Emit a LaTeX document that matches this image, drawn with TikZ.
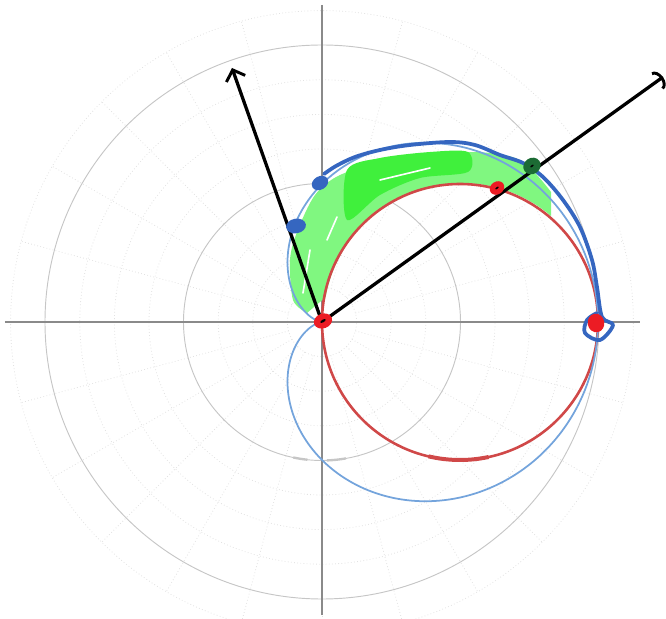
\documentclass[tikz,border=0pt]{standalone}
\usepackage{xcolor}
\usepackage{tikz}
\usetikzlibrary{arrows.meta,shapes.geometric}

\definecolor{axisgray}{HTML}{8A8A8A}
\definecolor{gridgray}{HTML}{C6C6C6}
\definecolor{faintgray}{HTML}{E2E2E2}
\definecolor{circred}{HTML}{D04848}
\definecolor{cardblue}{HTML}{74A4DC}
\definecolor{penblue}{HTML}{3566C0}
\definecolor{dotred}{HTML}{EC1C24}
\definecolor{dotgreen}{HTML}{1C6B34}
\definecolor{greenA}{HTML}{80F780}
\definecolor{greenB}{HTML}{40F03C}

\begin{document}
\begin{tikzpicture}[x=0.03cm,y=0.03cm,
  axis/.style={draw=axisgray,line width=1.3pt},
  ring/.style={draw=gridgray,line width=0.8pt},
  faint/.style={draw=faintgray,line width=0.7pt,dotted},
  circ/.style={draw=circred,line width=2.2pt},
  card/.style={draw=cardblue,line width=1.5pt},
  hand/.style={draw=penblue,line width=3.2pt,line cap=round,line join=round},
  streak/.style={draw=white,line width=1.4pt,line cap=round},
  arr/.style={line width=2.8pt,line cap=round,line join=round},
  dot/.style={ellipse,inner sep=0pt,draw=none},
  pinmark/.style={ellipse,fill=black,inner sep=0pt,minimum width=0.18cm,minimum height=0.08cm}
]
\useasboundingbox (-322,-297) rectangle (344,322);

% polar grid
\foreach \r in {34.6,69.2,103.8,173,207.6,242.2,311.4}
  \draw[faint] (0,0) circle (\r);
\foreach \a in {0,15,...,345}
  \draw[faint] (\a:34.6) -- (\a:311.4);
\draw[ring] (0,0) circle (138.5);
\draw[ring] (0,0) circle (277);
\draw[gridgray,line width=2pt] (258:138.5) arc[start angle=258,end angle=264,radius=138.5];
\draw[gridgray,line width=2pt] (272:138.5) arc[start angle=272,end angle=280,radius=138.5];
\draw[axis] (-317,0) -- (318,0);
\draw[axis] (0,317) -- (0,-293);

% shaded band
\fill[greenA] plot[smooth] coordinates {(-15,9) (-29,22) (-32,62) (-25,90) (-7,127) (18,147) (68,162) (148,170) (198,162) (229,130)}
  -- (229,106) arc[start angle=49.6,end angle=170,radius=138] -- cycle;
\fill[greenB] plot[smooth cycle] coordinates {(25,102) (25,152) (58,164) (108,170) (146,170) (146,150) (98,144) (58,127)};
\draw[streak] (58,142) -- (108,154);
\draw[streak] (15,105) -- (5,82);
\draw[streak] (-12,72) -- (-19,29);

% curves
\draw[circ] (138,0) circle (138);
\draw[circred,line width=3.4pt] (138,0) ++(256.8:138) arc[start angle=256.8,end angle=282,radius=138];
\draw[card] plot[domain=0:360,samples=160,smooth] ({138*(1+cos(\x))*cos(\x)},{138*(1+cos(\x))*sin(\x)});
\draw[hand] plot[smooth,tension=0.55] coordinates {(2,148) (14,156) (33,165) (58,172) (88,177) (128,180) (153,177) (178,167) (201,159) (221,145) (241,122) (258,95) (270,62) (275,35) (280,5) (291,-3) (278,-18) (263,-11) (265,2) (275,9)};

% rays
\coordinate (O) at (0,0);
\coordinate (tipA) at (-90,254);
\coordinate (tipB) at (341,245);
\draw[arr,-{Straight Barb[length=8pt,width=17pt,line width=2.5pt]}] (O) -- (tipA);
\draw[arr,-{Arc Barb[length=6pt,width=18pt,line width=2.5pt]}] (O) -- (tipB);

% points
\node[dot,fill=penblue,minimum width=0.52cm,minimum height=0.4cm,rotate=30] (blueA) at (-2,139) {};
\node[dot,fill=penblue,minimum width=0.6cm,minimum height=0.44cm,rotate=10] (blueB) at (-26,96) {};
\node[dot,fill=dotgreen,minimum width=0.54cm,minimum height=0.48cm,rotate=35] (green) at (210,156) {};
\node[pinmark,rotate=35,minimum width=0.12cm,minimum height=0.05cm] (greenC) at (green) {};
\node[dot,fill=dotred,minimum width=0.46cm,minimum height=0.38cm,rotate=35] (redP) at (175,134) {};
\node[pinmark,rotate=35,minimum width=0.12cm,minimum height=0.05cm] (redPC) at (redP) {};
\node[dot,fill=dotred,minimum width=0.56cm,minimum height=0.44cm,rotate=20] (redO) at (1,1) {};
\node[pinmark,rotate=30] (redOC) at (redO) {};
\node[dot,fill=dotred,minimum width=0.5cm,minimum height=0.56cm,rotate=10] (redR) at (274,-1) {};
\end{tikzpicture}
\end{document}
